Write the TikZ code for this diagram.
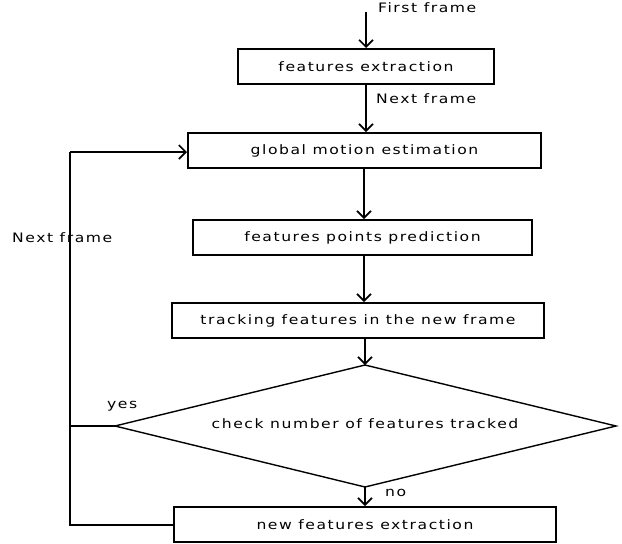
\documentclass[tikz,border=0pt]{standalone}
\usepackage{fontspec}
\setmainfont[LetterSpace=12,FakeStretch=1.2]{DejaVu Sans}
\usetikzlibrary{arrows.meta,shapes.geometric}
\begin{document}
\begin{tikzpicture}[x=1pt,y=-1pt,
  box/.style={draw,line width=2pt,inner sep=0pt,anchor=north west},
  lbl/.style={font=\fontsize{13}{15}\selectfont,inner sep=0pt},
  arr/.style={line width=2pt,-{Straight Barb[length=7pt,width=14pt,line width=1.6pt]}},
  ln/.style={line width=2pt}]
\useasboundingbox (0,0) rectangle (622,544);
\node[box,minimum width=256pt,minimum height=35pt] (b1) at (237,48) {};
\node[lbl] at (b1.center) {features extraction};
\node[box,minimum width=353pt,minimum height=35pt] (b2) at (187,132) {};
\node[lbl] at (b2.center) {global motion estimation};
\node[box,minimum width=339pt,minimum height=35pt] (b3) at (192,219) {};
\node[lbl] at (b3.center) {features points prediction};
\node[box,minimum width=372pt,minimum height=35pt] (b4) at (171,302) {};
\node[lbl] at (b4.center) {tracking features in the new frame};
\node[box,minimum width=382pt,minimum height=35pt] (b5) at (173,506) {};
\node[lbl] at (b5.center) {new features extraction};
\coordinate (dt) at (365,365);
\coordinate (dl) at (115,426);
\coordinate (dr) at (616,426);
\coordinate (db) at (365,487);
\draw[line width=1.4pt] (dt) -- (dr) -- (db) -- (dl) -- cycle;
\node[lbl] (dtxt) at (365,424) {check number of features tracked};
\coordinate (start) at (366,12);
\node[lbl,anchor=west] (ff) at (378,8) {First frame};
\node[lbl,anchor=west] (nf1) at (376,99) {Next frame};
\node[lbl,anchor=west] (nf2) at (12,238) {Next frame};
\node[lbl,anchor=west] (yes) at (107,406) {yes};
\node[lbl,anchor=west] (no) at (385,493) {no};
\coordinate (lt) at (70,152);
\coordinate (ly) at (70,426);
\draw[arr] (start) -- (366,48);
\draw[arr] (366,83) -- (366,132);
\draw[arr] (364,167) -- (364,219);
\draw[arr] (364,254) -- (364,302);
\draw[arr] (365,337) -- (dt);
\draw[arr] (db) -- (365,506);
\draw[ln] (b5.west) -- (b5.west -| lt) -- (lt);
\draw[arr] (lt) -- (187,152);
\draw[ln] (dl) -- (ly);
\end{tikzpicture}
\end{document}
